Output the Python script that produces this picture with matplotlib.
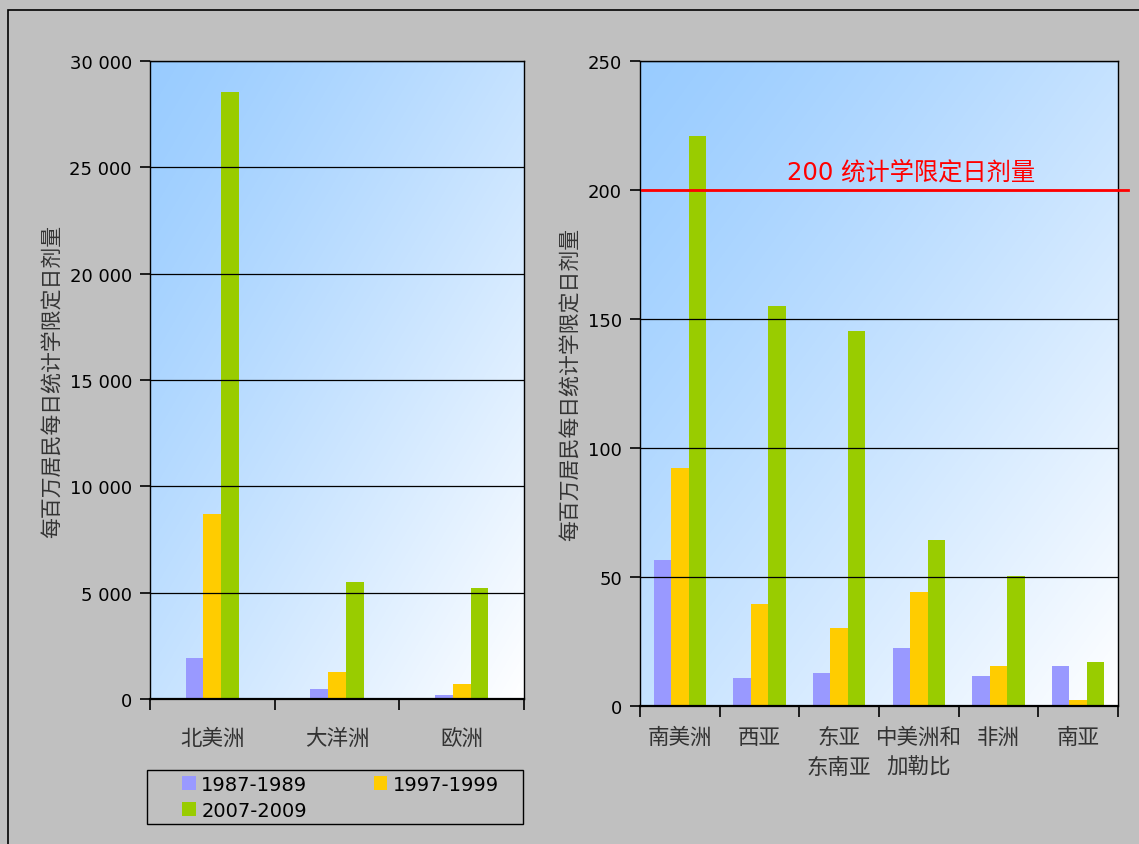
import numpy as np
import matplotlib
matplotlib.use("Agg")
import matplotlib.pyplot as plt
from matplotlib.patches import Rectangle, Patch
from matplotlib.ticker import FuncFormatter, FixedLocator

plt.rcParams['font.family'] = ['DejaVu Sans', 'Noto Sans CJK SC']

# ---- data ----
periods = ["1987-1989", "1997-1999", "2007-2009"]
colors = ["#9999ff", "#ffcc00", "#99cc00"]

left_cats = ["北美洲", "大洋洲", "欧洲"]
left_8789 = [1950, 480, 190]
left_9799 = [8700, 1270, 720]
left_0709 = [28550, 5500, 5220]

right_cats = ["南美洲", "西亚", "东亚\n东南亚", "中美洲和\n加勒比", "非洲", "南亚"]
right_8789 = [56.5, 10.9, 12.8, 22.5, 11.6, 15.5]
right_9799 = [92.2, 39.5, 30.2, 44.2, 15.5, 2.3]
right_0709 = [220.9, 155.0, 145.3, 64.3, 50.4, 17.1]

ylabel = "每百万居民每日统计学限定日剂量"
ddd_value = 200
ddd_label = "200 统计学限定日剂量"

BG = "#c0c0c0"

fig = plt.figure(figsize=(11.39, 8.45), dpi=100, facecolor=BG)

# outer frame
fig.patches.append(Rectangle((8 / 1139, -0.2), 1.2, 1.2 - 11 / 845, transform=fig.transFigure,
                             fill=False, edgecolor="black", lw=1.2))


def gradient(ax):
    n = 200
    xx, yy = np.meshgrid(np.linspace(0, 1, n), np.linspace(0, 1, n))
    t = np.clip((xx + yy) / 2, 0, 1) ** 1.2
    c0 = np.array([153, 204, 255]) / 255
    c1 = np.array([255, 255, 255]) / 255
    img = c0[None, None, :] * (1 - t[..., None]) + c1[None, None, :] * t[..., None]
    ax.imshow(img, extent=[0, 1, 0, 1], transform=ax.transAxes, aspect="auto",
              zorder=0, interpolation="bilinear")


def style(ax, cats, ymax, ystep, fmt):
    n = len(cats)
    ax.set_xlim(-0.5, n - 0.5)
    ax.set_ylim(0, ymax)
    ax.set_yticks(np.arange(0, ymax + 1, ystep))
    ax.yaxis.set_major_formatter(FuncFormatter(fmt))
    ax.grid(axis="y", color="black", lw=0.9, zorder=1)
    ax.set_axisbelow(False)
    ax.set_xticks(np.arange(n))
    ax.set_xticklabels(cats, fontsize=15.5, color="#333333", linespacing=1.6)
    ax.xaxis.set_minor_locator(FixedLocator(np.arange(n + 1) - 0.5))
    ax.tick_params(axis="x", which="major", length=0, pad=21)
    ax.tick_params(axis="x", which="minor", length=8, width=1.2, direction="out")
    ax.tick_params(axis="y", length=7, width=1.2, labelsize=13, pad=6)
    for s in ax.spines.values():
        s.set_color("black")
        s.set_linewidth(1.0)
    ax.spines["bottom"].set_linewidth(1.6)
    ax.set_ylabel(ylabel, fontsize=15, color="#333333", labelpad=5)
    gradient(ax)
    return np.arange(n)


def space_fmt(v, pos):
    return f"{int(v):,}".replace(",", " ")


# ---- left chart ----
ax1 = fig.add_axes([150 / 1139, 1 - 700 / 845, 374 / 1139, 638 / 845])
x = style(ax1, left_cats, 30000, 5000, space_fmt)
w = 0.142
for i, (vals, c) in enumerate(zip([left_8789, left_9799, left_0709], colors)):
    ax1.bar(x + (i - 1) * w, vals, width=w, color=c, zorder=2)

# ---- right chart ----
ax2 = fig.add_axes([640 / 1139, 1 - 707 / 845, 478 / 1139, 645 / 845])
x = style(ax2, right_cats, 250, 50, lambda v, p: f"{int(v)}")
w = 0.22
for i, (vals, c) in enumerate(zip([right_8789, right_9799, right_0709], colors)):
    ax2.bar(x + (i - 1) * w, vals, width=w, color=c, zorder=2)
ax2.tick_params(axis="x", which="major", pad=15)

ax2.plot([-0.47, 5.63], [ddd_value, ddd_value], color="#ff0000", lw=2, zorder=3, clip_on=False)
ax2.text(2.9, 207, ddd_label, color="#ff0000", fontsize=17.5, ha="center", va="center", zorder=4)

# ---- legend ----
fig.patches.append(Rectangle((147 / 1139, 1 - 825 / 845), 376 / 1139, 54 / 845,
                             transform=fig.transFigure, facecolor=BG, edgecolor="black", lw=1.0))
handles = [Patch(facecolor=c, edgecolor="none") for c in colors]
order = [0, 2, 1]
leg = fig.legend([handles[i] for i in order], [periods[i] for i in order],
                 loc="upper left", bbox_to_anchor=(178 / 1139, 1 - 772 / 845),
                 ncol=2, fontsize=14, frameon=False, borderaxespad=0,
                 handlelength=0.7, handleheight=0.7, handletextpad=0.3,
                 labelspacing=0.35, borderpad=0.2, columnspacing=3.4)

fig.savefig("out.png", dpi=100, facecolor=BG)
